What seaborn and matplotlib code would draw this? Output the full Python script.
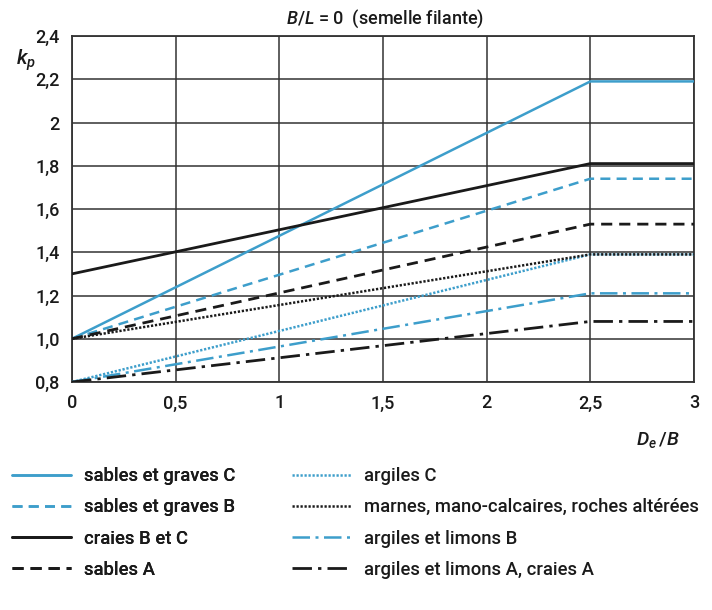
import matplotlib
matplotlib.use("Agg")
import matplotlib.pyplot as plt
import seaborn as sns
import pandas as pd
from matplotlib.lines import Line2D

sns.set_theme(style="white")
plt.rcParams['font.family'] = ['Roboto', 'Liberation Sans', 'DejaVu Sans']
plt.rcParams['font.weight'] = 'medium'
plt.rcParams['mathtext.fontset'] = 'custom'
plt.rcParams['mathtext.it'] = 'Roboto:italic:medium'
plt.rcParams['mathtext.rm'] = 'Roboto:medium'

# ---- data ----
x_pts = [0, 2.5, 3]
sables_graves_C = [1.00, 2.19, 2.19]
sables_graves_B = [1.00, 1.74, 1.74]
craies_BC = [1.30, 1.81, 1.81]
sables_A = [1.00, 1.53, 1.53]
argiles_C = [0.80, 1.39, 1.39]
marnes = [1.00, 1.39, 1.39]
argiles_limons_B = [0.80, 1.21, 1.21]
argiles_limons_A = [0.80, 1.08, 1.08]

labels = ["sables et graves C", "sables et graves B", "craies B et C", "sables A",
          "argiles C", "marnes, mano-calcaires, roches altérées",
          "argiles et limons B", "argiles et limons A, craies A"]
series = [sables_graves_C, sables_graves_B, craies_BC, sables_A,
          argiles_C, marnes, argiles_limons_B, argiles_limons_A]

x_ticks = [0, 0.5, 1, 1.5, 2, 2.5, 3]
x_ticklabels = ['0', '0,5', '1', '1,5', '2', '2,5', '3']
y_ticks = [0.8, 1.0, 1.2, 1.4, 1.6, 1.8, 2.0, 2.2, 2.4]
y_ticklabels = ['0,8', '1,0', '1,2', '1,4', '1,6', '1,8', '2', '2,2', '2,4']

BLUE = "#3d9ecb"
BLACK = "#1a1a1a"
styles = [
    dict(color=BLUE, ls='-', lw=1.8),
    dict(color=BLUE, ls=(0, (4, 2.5)), lw=1.8),
    dict(color=BLACK, ls='-', lw=2.0),
    dict(color=BLACK, ls=(0, (4, 2.5)), lw=2.0),
    dict(color=BLUE, ls=(0, (0.9, 0.7)), lw=1.8),
    dict(color=BLACK, ls=(0, (0.9, 0.7)), lw=1.8),
    dict(color=BLUE, ls=(0, (7, 2.2, 1.2, 2.2)), lw=1.8),
    dict(color=BLACK, ls=(0, (7, 2.2, 1.2, 2.2)), lw=2.0),
]

fig = plt.figure(figsize=(7.12, 6.10), dpi=100)
ax = fig.add_axes([72/712, 1-382/610, (694-72)/712, (382-36)/610])

for lab, ys, st in zip(labels, series, styles):
    df = pd.DataFrame({"x": x_pts, "y": ys})
    sns.lineplot(data=df, x="x", y="y", ax=ax, color=st['color'], linestyle=st['ls'],
                 linewidth=st['lw'], zorder=3)

ax.set_xlim(0, 3)
ax.set_ylim(0.8, 2.4)
ax.set_xticks(x_ticks)
ax.set_xticklabels(x_ticklabels)
ax.set_yticks(y_ticks)
ax.set_yticklabels(y_ticklabels)
ax.grid(True, color="#333333", lw=1.1, zorder=1)
for s in ax.spines.values():
    s.set_color("#333333")
    s.set_linewidth(1.3)
ax.tick_params(axis='both', direction='out', length=6, width=1.1, color="#333333",
               labelsize=13, colors="#1a1a1a", pad=3)
ax.set_xlabel("")
ax.set_ylabel("")

fig.text(385/712, 1-19/610, r"$B/L$ = 0  (semelle filante)", ha='center', va='center',
         fontsize=13, color="#1a1a1a")
fig.text(26/712, 1-60/610, r"$k_p$", ha='center', va='center', fontsize=15, color="#1a1a1a")
fig.text(658/712, 1-440/610, r"$D_e\,/B$", ha='center', va='center', fontsize=14, color="#1a1a1a")

handles = [Line2D([], [], color=st['color'], linestyle=st['ls'], linewidth=st['lw']) for st in styles]
common = dict(frameon=False, fontsize=13.3, handlelength=3.2, handletextpad=0.7,
              labelspacing=0.72, borderpad=0, borderaxespad=0, loc='upper left',
              labelcolor="#1a1a1a")
leg1 = fig.legend(handles[:4], labels[:4], bbox_to_anchor=(12/712, 1-467/610), **common)
fig.add_artist(leg1)
leg2 = fig.legend(handles[4:], labels[4:], bbox_to_anchor=(292/712, 1-467/610), **common)

fig.savefig("out.png", dpi=100, facecolor="white")
